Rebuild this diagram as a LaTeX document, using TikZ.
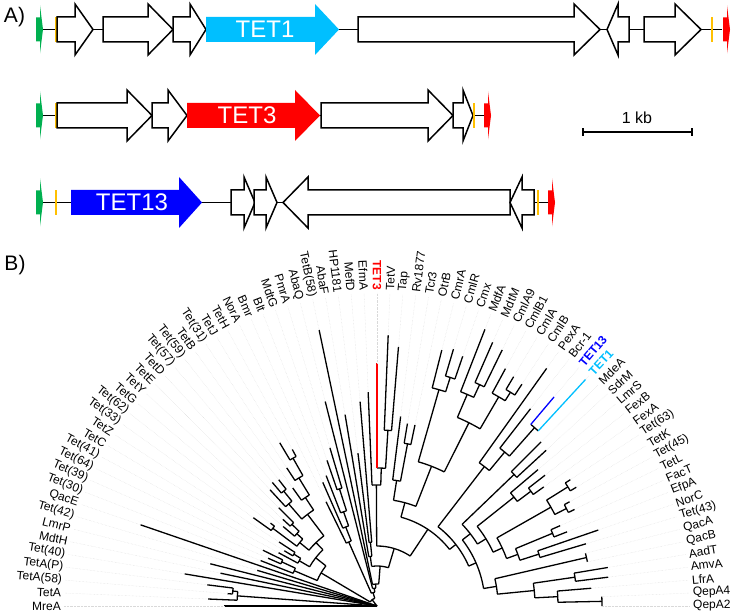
\documentclass[tikz,border=0pt]{standalone}
\usepackage{fontspec}
\setmainfont{Liberation Sans}
\definecolor{tcyan}{RGB}{0,191,255}
\definecolor{tred}{RGB}{255,0,0}
\definecolor{tblue}{RGB}{0,0,255}
\definecolor{ggreen}{RGB}{0,176,80}
\definecolor{gorange}{RGB}{255,192,0}
\tikzset{
 gene/.style={draw=black, line width=1.5pt, fill=white, line join=miter},
 backbone/.style={line width=1.6pt},
 obar/.style={draw=gorange, line width=2pt},
 tree/.style={line width=1.3pt},
 lab/.style={font=\fontsize{12}{14}\selectfont, inner sep=1pt},
 guide/.style={draw=black!15, densely dotted, line width=0.4pt},
 glabel/.style={font=\fontsize{24}{28}\selectfont, text=white},
 panel/.style={font=\fontsize{21}{24}\selectfont},
}
\newcommand\fgene[5][]{\draw[gene,#1] (#2,{#5-12.5}) -- (#3,{#5-12.5}) -- (#3,{#5-25.5}) -- (#4,#5) -- (#3,{#5+25.5}) -- (#3,{#5+12.5}) -- (#2,{#5+12.5}) -- cycle;}
\newcommand\rgene[4]{\draw[gene] (#1,#4) -- (#2,{#4+25.5}) -- (#2,{#4+12.5}) -- (#3,{#4+12.5}) -- (#3,{#4-12.5}) -- (#2,{#4-12.5}) -- (#2,{#4-25.5}) -- cycle;}
\newcommand\smark[3]{\fill[#1] (#2,{#3+12}) -- ({#2+4},{#3+12}) -- ({#2+4},{#3+24}) -- ({#2+7},#3) -- ({#2+4},{#3-24}) -- ({#2+4},{#3-12}) -- (#2,{#3-12}) -- cycle;}
\newcommand\obarat[2]{\draw[obar] (#1,{#2-12.5}) -- (#1,{#2+12.5});}
% tree helpers (angle from leaf index, radius in px)
\newcommand\lang[1]{(180-(#1-1)*180/76)}
\newcommand\tbr[3]{\draw[tree] ({\lang{#1}}:#2) -- ({\lang{#1}}:#3);}
\newcommand\tarc[3]{\draw[tree] ({\lang{#1}}:#3) arc[start angle={\lang{#1}}, end angle={\lang{#2}}, radius=#3];}
\newcommand\tnode[5]{\tbr{#1}{#2}{#3}\tarc{#4}{#5}{#3}}
\newcommand\tleaf[4][black]{\draw[tree,#1] ({\lang{#2}}:#3) -- ({\lang{#2}}:#4);\draw[guide] ({\lang{#2}}:#4) -- ({\lang{#2}}:313);}
\newcommand\labl[3][]{\node[lab,anchor=east,rotate={-(#2-1)*180/76},#1] at ({\lang{#2}}:315) {#3};}
\newcommand\labr[3][]{\node[lab,anchor=west,rotate={\lang{#2}},#1] at ({\lang{#2}}:315) {#3};}
\begin{document}
\begin{tikzpicture}[x=1pt,y=1pt]
\useasboundingbox (0,0) rectangle (735,615);
\node[panel] (pa) at (14.5,598) {A)};
\node[panel] (pb) at (15,349.5) {B)};
% ---------- row 1
\draw[backbone] (43,585.5) -- (722,585.5);
\smark{ggreen}{36}{585.5}
\obarat{56}{585.5}
\fgene{57}{75}{93}{585.5}
\fgene{103}{148}{173}{585.5}
\fgene{173}{190}{206}{585.5}
\fill[tcyan] (206,573) -- (315,573) -- (315,560) -- (339,585.5) -- (315,611) -- (315,598) -- (206,598) -- cycle;
\node[glabel] (t1) at (265,585.5) {TET1};
\fgene{358}{574}{600}{585.5}
\rgene{607}{618}{629}{585.5}
\fgene{644}{675}{701}{585.5}
\obarat{712}{585.5}
\smark{tred}{723}{585.5}
% ---------- row 2
\draw[backbone] (43,499.5) -- (484,499.5);
\smark{ggreen}{36}{499.5}
\obarat{56}{499.5}
\fgene{57}{127}{152}{499.5}
\fgene{152}{168}{187}{499.5}
\fill[tred] (187,487) -- (295,487) -- (295,474) -- (320,499.5) -- (295,525) -- (295,512) -- (187,512) -- cycle;
\node[glabel] (t3) at (247,499.5) {TET3};
\fgene{321}{428}{453}{499.5}
\fgene{453}{463}{473}{499.5}
\obarat{474}{499.5}
\smark{tred}{484}{499.5}
% scale bar
\draw[line width=1.5pt] (583,483) -- (692,483);
\draw[line width=1.5pt] (583,479) -- (583,487);
\draw[line width=1.5pt] (692,479) -- (692,487);
\node[font=\fontsize{16}{18}\selectfont] (kb) at (637,497) {1 kb};
% ---------- row 3
\draw[backbone] (43,412.5) -- (548,412.5);
\smark{ggreen}{36}{412.5}
\obarat{56}{412.5}
\fill[tblue] (71,400) -- (179,400) -- (179,387) -- (202,412.5) -- (179,438) -- (179,425) -- (71,425) -- cycle;
\node[glabel] (t13) at (132,412.5) {TET13};
\fgene{231}{244}{255}{412.5}
\fgene{254}{266}{277}{412.5}
\rgene{283}{308}{510}{412.5}
\rgene{510}{522}{534}{412.5}
\obarat{538}{412.5}
\smark{tred}{548}{412.5}
% ---------- tree
\begin{scope}[shift={(377,9)}]
% root children
\tleaf{1}{0}{153}
\tnode{2.75}{0}{140}{2}{3.5}\tleaf{2}{140}{169}
\tnode{3.5}{140}{145}{3}{4}\tleaf{3}{145}{150}\tleaf{4}{145}{171}
\tleaf{5}{0}{195}\tleaf{6}{0}{160}\tleaf{7}{0}{172}\tleaf{8}{0}{125}\tleaf{9}{0}{250}
\tnode{23.0}{0}{8}{13.93}{32.08}
% Tet cluster
\tnode{13.93}{8}{65}{10.75}{17.109}
\tnode{10.75}{65}{90}{10}{11.5}\tleaf{10}{90}{125}
\tnode{11.5}{90}{105}{11}{12}\tleaf{11}{105}{119}\tleaf{12}{105}{127}
\tnode{17.109}{65}{78}{13.75}{20.469}
\tnode{13.75}{78}{90}{13}{14.5}\tleaf{13}{90}{112}
\tnode{14.5}{90}{98}{14}{15}\tleaf{14}{98}{108}\tleaf{15}{98}{117}
\tnode{20.469}{78}{88}{17.625}{23.3125}
\tnode{17.625}{88}{100}{16.5}{18.75}
\tnode{16.5}{100}{130}{16}{17}\tleaf{16}{130}{152}\tleaf{17}{130}{135}
\tnode{18.75}{100}{108}{18}{19.5}\tleaf{18}{108}{123}
\tnode{19.5}{108}{118}{19}{20}\tleaf{19}{118}{128}\tleaf{20}{118}{139}
\tnode{23.3125}{88}{115}{21.75}{24.875}
\tnode{21.75}{115}{135}{21}{22.5}\tleaf{21}{135}{158}
\tnode{22.5}{135}{148}{22}{23}\tleaf{22}{148}{162}\tleaf{23}{148}{160}
\tnode{24.875}{115}{130}{24}{25.75}\tleaf{24}{130}{145}
\tnode{25.75}{130}{150}{25}{26.5}\tleaf{25}{150}{165}
\tnode{26.5}{150}{170}{26}{27}\tleaf{26}{170}{190}\tleaf{27}{170}{178}
% middle
\tnode{32.08}{8}{14}{28.9375}{35.22}
\tnode{28.9375}{14}{70}{28}{29.875}\tleaf{28}{70}{116}
\tnode{29.875}{70}{85}{29}{30.75}\tleaf{29}{85}{135}
\tnode{30.75}{85}{100}{30}{31.5}\tleaf{30}{100}{140}
\tnode{31.5}{100}{123}{31}{32}\tleaf{31}{123}{154}\tleaf{32}{123}{165}
\tnode{35.22}{14}{18}{33}{37.44}\tleaf{33}{18}{211}
\tnode{37.44}{18}{22}{34}{40.89}\tleaf{34}{22}{282}
\tnode{40.89}{22}{40}{35.75}{46.02}
\tnode{35.75}{40}{50}{35}{36.5}\tleaf{35}{50}{194}
\tnode{36.5}{50}{64}{36}{37}\tleaf{36}{64}{154}\tleaf{37}{64}{205}
\tnode{46.02}{40}{60}{38.875}{53.17}
\tnode{38.875}{60}{121}{38}{39.75}\tleaf{38}{121}{214}
\tnode{39.75}{121}{138}{39}{40.5}\tleaf[tred]{39}{138}{243}
\tnode{40.5}{138}{176}{40}{41}\tleaf{40}{176}{271}\tleaf{41}{176}{260}
% right, upper
\tnode{53.17}{60}{92}{45.375}{60.97}
\tnode{45.375}{92}{107}{42.75}{48}
\tnode{42.75}{107}{127}{42}{43.5}\tleaf{42}{127}{191}
\tnode{43.5}{127}{165}{43}{44}\tleaf{43}{165}{185}\tleaf{44}{165}{185}
\tnode{48}{107}{150}{45.75}{50.25}
\tnode{45.75}{150}{225}{45}{46.5}\tleaf{45}{225}{264}
\tnode{46.5}{225}{240}{46}{47}\tleaf{46}{240}{268}\tleaf{47}{240}{264}
\tnode{50.25}{150}{205}{48.75}{51.75}
\tnode{48.75}{205}{230}{48}{49.5}\tleaf{48}{230}{297}
\tnode{49.5}{230}{244}{49}{50}\tleaf{49}{244}{288}\tleaf{50}{244}{285}
\tnode{51.75}{205}{242}{51}{52.5}\tleaf{51}{242}{270}
\tnode{52.5}{242}{252}{52}{53}\tleaf{52}{252}{267}\tleaf{53}{252}{265}
\tnode{60.97}{92}{100}{54.875}{67.0625}
\tnode{54.875}{100}{176}{54}{55.75}\tleaf{54}{176}{292}
\tnode{55.75}{176}{200}{55}{56.5}\tleaf{55}{200}{250}
\tnode{56.5}{200}{238}{56}{57}\tleaf[tblue]{56}{238}{274}\tleaf[tcyan]{57}{238}{308}
% right, lower
\tnode{67.0625}{100}{108}{61.0625}{73.0625}
\tnode{61.0625}{108}{118}{58.5}{63.625}
\tnode{58.5}{118}{190}{58}{59}\tleaf{58}{190}{232}\tleaf{59}{190}{230}
\tnode{63.625}{118}{128}{60.75}{66.5}
\tnode{60.75}{128}{175}{60}{61.5}\tleaf{60}{175}{211}
\tnode{61.5}{175}{192}{61}{62}\tleaf{61}{192}{213}\tleaf{62}{192}{205}
\tnode{66.5}{128}{138}{64.5}{68.5}
\tnode{64.5}{138}{200}{63.5}{65.5}
\tnode{63.5}{200}{225}{63}{64}\tleaf{63}{225}{231}\tleaf{64}{225}{232}
\tnode{65.5}{200}{213}{65}{66}\tleaf{65}{213}{219}\tleaf{66}{213}{220}
\tnode{68.5}{138}{150}{67.5}{69.5}
\tnode{67.5}{150}{190}{67}{68}\tleaf{67}{190}{200}\tleaf{68}{190}{204}
\tnode{69.5}{150}{170}{69}{70}\tleaf{69}{170}{234}\tleaf{70}{170}{218}
\tnode{73.0625}{108}{121}{71.5}{74.625}
\tnode{71.5}{121}{215}{71}{72}\tleaf{71}{215}{215}\tleaf{72}{215}{215}
\tnode{74.625}{121}{158}{73.5}{75.75}
\tnode{73.5}{158}{200}{73}{74}\tleaf{73}{200}{234}\tleaf{74}{200}{233}
\tnode{75.75}{158}{181}{75}{76.5}\tleaf{75}{181}{215}
\tnode{76.5}{181}{225}{76}{77}\tleaf{76}{225}{225}\tleaf{77}{225}{225}
% labels
\labl{1}{MreA}\labl{2}{TetA}\labl{3}{TetA(58)}\labl{4}{TetA(P)}\labl{5}{Tet(40)}
\labl{6}{MdtH}\labl{7}{LmrP}\labl{8}{Tet(42)}\labl{9}{QacE}\labl{10}{Tet(30)}
\labl{11}{Tet(39)}\labl{12}{Tet(64)}\labl{13}{Tet(41)}\labl{14}{TetC}\labl{15}{TetZ}
\labl{16}{Tet(33)}\labl{17}{Tet(62)}\labl{18}{TetG}\labl{19}{TetY}\labl{20}{TetE}
\labl{21}{TetD}\labl{22}{Tet(57)}\labl{23}{Tet(59)}\labl{24}{TetB}\labl{25}{Tet(31)}
\labl{26}{TetJ}\labl{27}{TetH}\labl{28}{NorA}\labl{29}{Bmr}\labl{30}{Blt}
\labl{31}{MdtG}\labl{32}{PmrA}\labl{33}{AbaQ}\labl{34}{TetB(58)}\labl{35}{AbaF}
\labl{36}{HP1181}\labl{37}{MefD}\labl{38}{EfmA}\labl[text=tred,font=\fontsize{12}{14}\selectfont\bfseries]{39}{TET3}
\labr{40}{TetV}\labr{41}{Tap}\labr{42}{Rv1877}\labr{43}{Tcr3}\labr{44}{OtrB}
\labr{45}{CmrA}\labr{46}{CmlR}\labr{47}{Cmx}\labr{48}{MdfA}\labr{49}{MdtM}
\labr{50}{CmlA9}\labr{51}{CmlB1}\labr{52}{CmlA}\labr{53}{CmlB}\labr{54}{PexA}
\labr{55}{Bcr-1}\labr[text=tblue,font=\fontsize{12}{14}\selectfont\bfseries]{56}{TET13}\labr[text=tcyan,font=\fontsize{12}{14}\selectfont\bfseries]{57}{TET1}\labr{58}{MdeA}\labr{59}{SdrM}
\labr{60}{LmrS}\labr{61}{FexB}\labr{62}{FexA}\labr{63}{Tet(63)}\labr{64}{TetK}
\labr{65}{Tet(45)}\labr{66}{TetL}\labr{67}{FacT}\labr{68}{EfpA}\labr{69}{NorC}
\labr{70}{Tet(43)}\labr{71}{QacA}\labr{72}{QacB}\labr{73}{AadT}\labr{74}{AmvA}
\labr{75}{LfrA}\labr{76}{QepA4}\labr{77}{QepA2}
\end{scope}
\end{tikzpicture}
\end{document}
